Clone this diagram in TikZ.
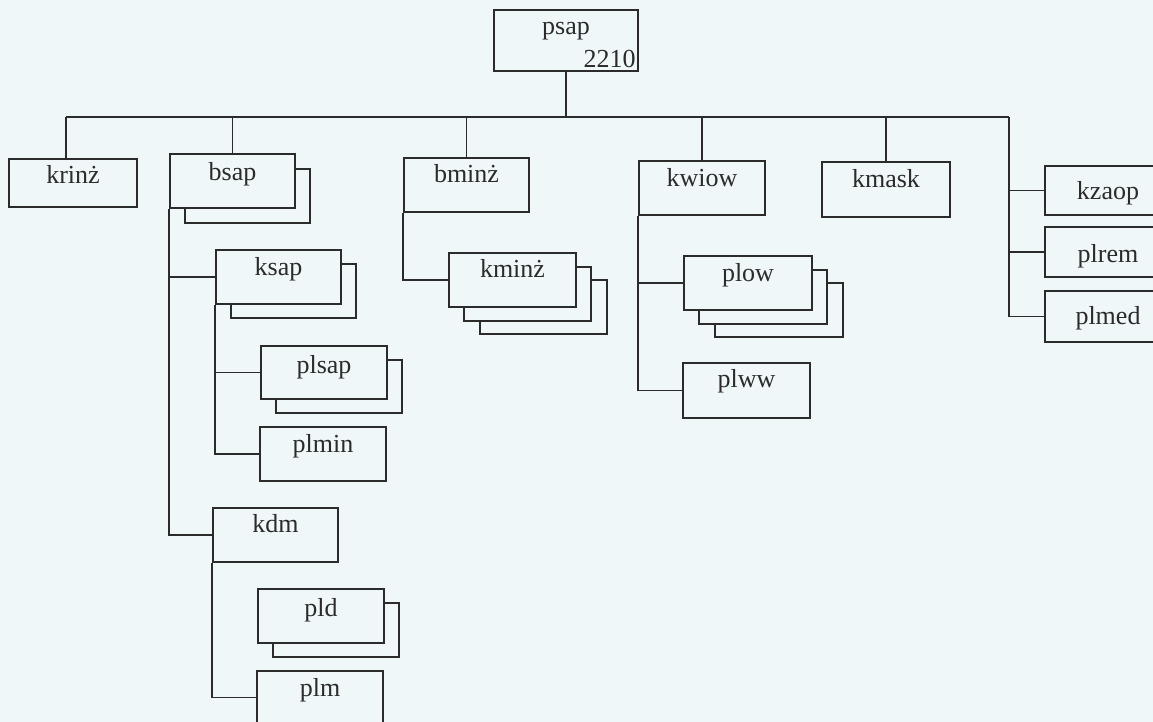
\documentclass[tikz,border=0pt]{standalone}
\usepackage{fontspec}
\setmainfont{Liberation Serif}
\usetikzlibrary{fit,calc}
\definecolor{bg}{HTML}{EFF7F9}
\definecolor{ink}{HTML}{2B2B2B}
\tikzset{
 box/.style={draw=ink, fill=bg, line width=0.9pt, inner sep=0pt, rectangle},
 lbl/.style={anchor=base, font=\fontsize{13}{15}\selectfont, text=ink, inner sep=0pt},
 link/.style={draw=ink, line width=0.9pt},
}
\newcommand\mkbox[7]{%
 \node[box, fit={(#2,#3) (#4,#5)}] (#1) {};
 \node[lbl] (#1-t) at ($(#1.north)+(0,#7)$) {#6};}
\newcommand\mkshadow[5]{%
 \node[box, fit={(#2,#3) (#4,#5)}] (#1) {};}
\begin{document}
\begin{tikzpicture}[x=0.5pt,y=-0.5pt]
\clip (0,0) rectangle (1153,722);
\fill[bg] (0,0) rectangle (1153,722);
% boxes
\mkbox{psap}{494}{10}{638}{71}{psap}{25}
\node[lbl, anchor=base east] (psap-n) at ($(psap.south east)+(-3,-4)$) {2210};
\mkbox{krinz}{9}{159}{137}{207}{krinż}{25}
\mkshadow{bsap-s}{185}{169}{310}{223}
\mkbox{bsap}{170}{154}{295}{208}{bsap}{27}
\mkbox{bminz}{404}{158}{529}{212}{bminż}{25}
\mkbox{kwiow}{639}{161}{765}{215}{kwiow}{26}
\mkbox{kmask}{822}{162}{950}{217}{kmask}{26}
\mkbox{kzaop}{1045}{166}{1171}{215}{kzaop}{34}
\mkbox{plrem}{1045}{227}{1171}{277}{plrem}{36}
\mkbox{plmed}{1045}{291}{1171}{342}{plmed}{34}
\mkshadow{ksap-s}{231}{264}{356}{318}
\mkbox{ksap}{216}{250}{341}{304}{ksap}{26}
\mkshadow{plsap-s}{276}{360}{402}{413}
\mkbox{plsap}{261}{346}{387}{399}{plsap}{28}
\mkbox{plmin}{260}{427}{386}{481}{plmin}{26}
\mkbox{kdm}{213}{508}{338}{562}{kdm}{25}
\mkshadow{pld-s}{273}{603}{399}{657}
\mkbox{pld}{258}{589}{384}{643}{pld}{28}
\mkbox{plm}{257}{671}{383}{724}{plm}{26}
\mkshadow{kminz-s2}{480}{280}{607}{334}
\mkshadow{kminz-s1}{464}{267}{591}{321}
\mkbox{kminz}{449}{253}{576}{307}{kminż}{25}
\mkshadow{plow-s2}{715}{283}{843}{337}
\mkshadow{plow-s1}{699}{270}{827}{324}
\mkbox{plow}{684}{256}{812}{310}{plow}{26}
\mkbox{plww}{683}{363}{810}{418}{plww}{25}
% bus
\coordinate (busL) at (66,117);
\coordinate (busR) at (1009,117);
\draw[link] (busL) -- (busR);
\draw[link] (psap.south) -- (psap.south |- busL);
\draw[link] (busL) -- (busL |- krinz.north);
\draw[link] (bsap.north |- busL) -- (bsap.north);
\draw[link] (bminz.north |- busL) -- (bminz.north);
\draw[link] (kwiow.north |- busL) -- (kwiow.north);
\draw[link] (kmask.north |- busL) -- (kmask.north);
% right group
\draw[link] (busR) -- (busR |- plmed.west) -- (plmed.west);
\draw[link] (busR |- kzaop.west) -- (kzaop.west);
\draw[link] (busR |- plrem.west) -- (plrem.west);
% bsap subtree
\draw[link] (bsap.south west) -- (bsap.south west |- kdm.west) -- (kdm.west);
\draw[link] (bsap.south west |- ksap.west) -- (ksap.west);
\draw[link] (ksap.south west) -- (ksap.south west |- plmin.west) -- (plmin.west);
\draw[link] (ksap.south west |- plsap.west) -- (plsap.west);
\draw[link] (kdm.south west) -- (kdm.south west |- plm.west) -- (plm.west);
% bminz subtree
\draw[link] (bminz.south west) -- (bminz.south west |- kminz.west) -- (kminz.west);
% kwiow subtree
\draw[link] (kwiow.south west) -- (kwiow.south west |- plww.west) -- (plww.west);
\draw[link] (kwiow.south west |- plow.west) -- (plow.west);
\end{tikzpicture}
\end{document}
